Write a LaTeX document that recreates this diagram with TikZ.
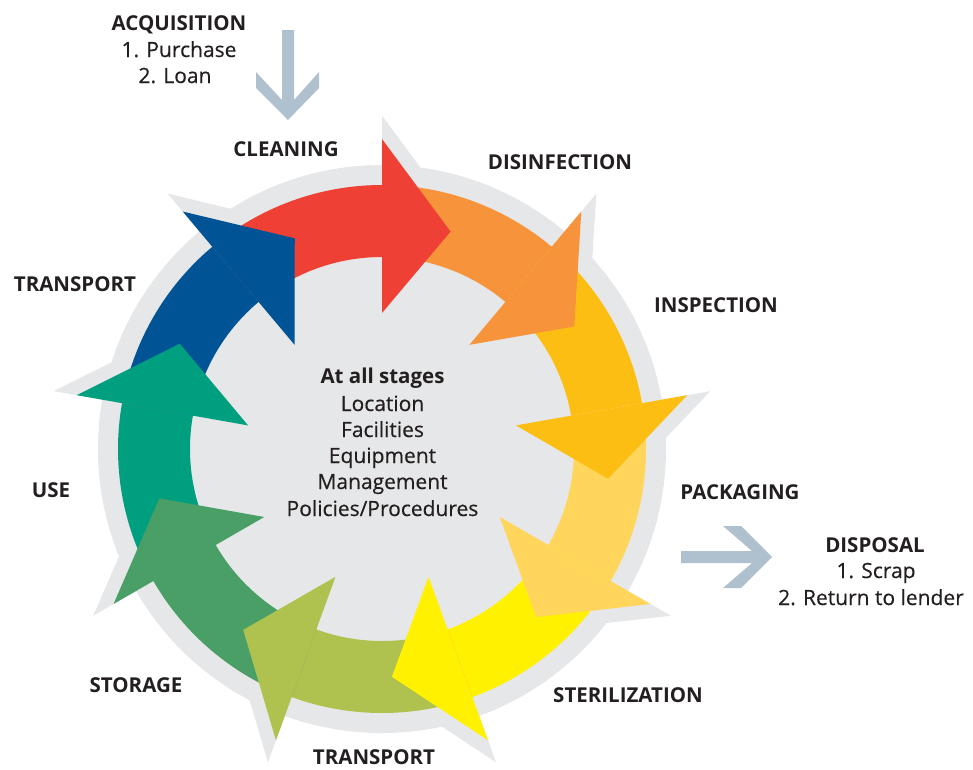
\documentclass[tikz,border=0pt]{standalone}
\usepackage{fontspec}
\setmainfont{Open Sans}
\newfontfamily\regfont[FakeBold=0.4]{Open Sans}
\definecolor{cred}{RGB}{239,64,54}
\definecolor{corange}{RGB}{247,147,58}
\definecolor{cgold}{RGB}{253,190,20}
\definecolor{clight}{RGB}{255,213,92}
\definecolor{cyellow}{RGB}{255,241,0}
\definecolor{colive}{RGB}{175,193,79}
\definecolor{cgreen}{RGB}{74,159,103}
\definecolor{cteal}{RGB}{0,159,127}
\definecolor{cblue}{RGB}{0,84,150}
\definecolor{cgrey}{RGB}{230,231,232}
\definecolor{carrow}{RGB}{175,192,207}
\definecolor{ctext}{RGB}{35,31,32}
\begin{document}
\begin{tikzpicture}[x=1pt,y=-1pt,
  lbl/.style={font=\fontsize{20.5}{24}\selectfont\bfseries, text=ctext, anchor=base, inner sep=0pt},
  txt/.style={font=\regfont\fontsize{21}{24}\selectfont, text=ctext, anchor=base, inner sep=0pt}]
\useasboundingbox (0,0) rectangle (973,769);
% ring
\begin{scope}[shift={(382,449)}, yscale=-1]
  \fill[cgrey] (0,0) circle[radius=284];
  \foreach \e in {90,50,10,-30,-70,-110,-150,-190,-230}{
    \pgfmathsetmacro\t{\e-17.5}
    \fill[cgrey] (\e:333.5) -- (\t:245) -- (\e:146) -- cycle;
  }
  \foreach \s/\c in {130/cred,90/corange,50/cgold,10/clight,-30/cyellow,-70/colive,-110/cgreen,-150/cteal,-190/cblue}{
    \pgfmathsetmacro\e{\s-40}
    \fill[\c] (\s:264) arc[start angle=\s,end angle=\e,radius=264] -- (\e:192) arc[start angle=\e,end angle=\s,radius=192] -- cycle;
  }
  \foreach \s/\c in {130/cred,90/corange,50/cgold,10/clight,-30/cyellow,-70/colive,-110/cgreen,-150/cteal,-190/cblue}{
    \pgfmathsetmacro\e{\s-40}
    \pgfmathsetmacro\t{\e-17.5}
    \fill[\c] (\e:310) -- (\t:228) -- (\e:136) -- cycle;
  }
\end{scope}
% acquisition arrow
\fill[carrow] (282,30) -- (294,30) -- (294,100) -- (319,72) -- (319,88) -- (288,120) -- (256,88) -- (256,72) -- (282,100) -- cycle;
% disposal arrow
\fill[carrow] (681,551) -- (681,563) -- (752,563) -- (723,588) -- (741,588) -- (772,557) -- (741,526) -- (723,526) -- (752,551) -- cycle;
% labels
\node[lbl] (acq) at (179,30) {ACQUISITION};
\node[txt] (acq1) at (179,57) {1. Purchase};
\node[txt] (acq2) at (175,83) {2. Loan};
\node[lbl] (clean) at (286,156) {CLEANING};
\node[lbl] (disinf) at (560,169) {DISINFECTION};
\node[lbl] (insp) at (716,312) {INSPECTION};
\node[lbl] (pack) at (740,499) {PACKAGING};
\node[lbl] (disp) at (875,552) {DISPOSAL};
\node[txt] (disp1) at (876,578) {1. Scrap};
\node[txt] (disp2) at (871,605) {2. Return to lender};
\node[lbl] (steril) at (628,702) {STERILIZATION};
\node[lbl] (trans2) at (374,764) {TRANSPORT};
\node[lbl] (stor) at (136,692) {STORAGE};
\node[lbl] (use) at (51,497) {USE};
\node[lbl] (trans1) at (75,291) {TRANSPORT};
\node[lbl] (all) at (382.5,383) {At all stages};
\node[txt] (loc) at (382.5,411) {Location};
\node[txt] (fac) at (382.5,437) {Facilities};
\node[txt] (equ) at (382.5,463) {Equipment};
\node[txt] (man) at (382.5,489) {Management};
\node[txt] (pol) at (382.5,516) {Policies/Procedures};
\end{tikzpicture}
\end{document}
